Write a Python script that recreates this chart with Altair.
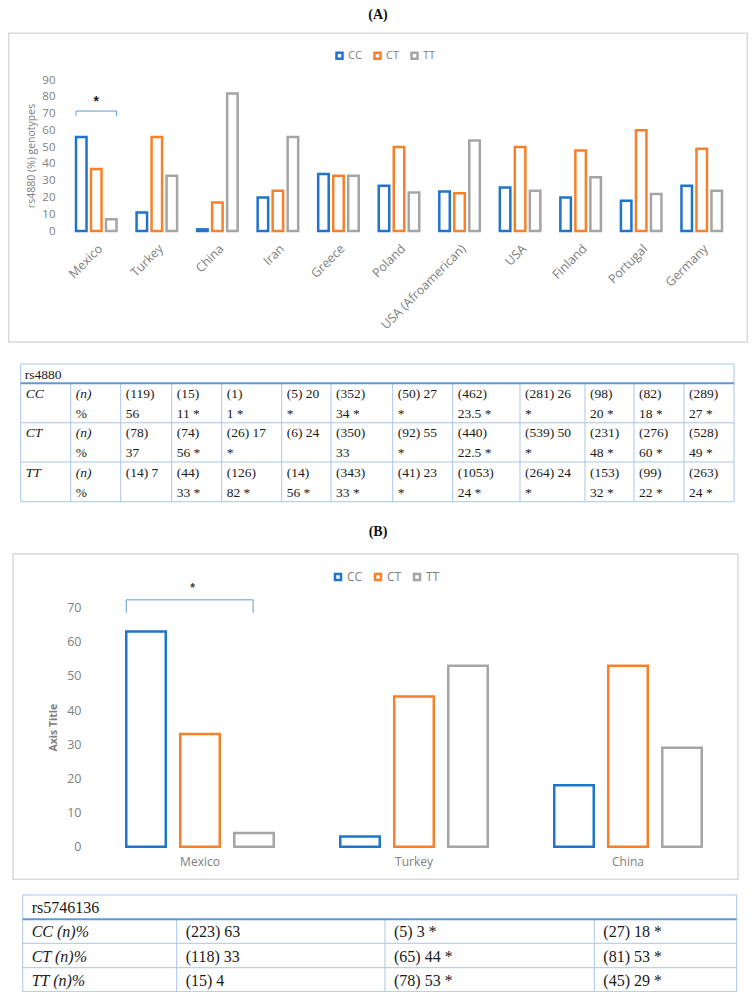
import altair as alt
import numpy as np
import pandas as pd

# ---------------- values ----------------
genotypes = ["CC", "CT", "TT"]

countries_a = ["Mexico", "Turkey", "China", "Iran", "Greece", "Poland",
               "USA (Afroamerican)", "USA", "Finland", "Portugal", "Germany"]
cc_a = [56, 11, 1, 20, 34, 27, 23.5, 26, 20, 18, 27]
ct_a = [37, 56, 17, 24, 33, 50, 22.5, 50, 48, 60, 49]
tt_a = [7, 33, 82, 56, 33, 23, 54, 24, 32, 22, 24]
ticks_a = [0, 10, 20, 30, 40, 50, 60, 70, 80, 90]
y_title_a = "rs4880 (%) genotypes"
bracket_a = {"country": "Mexico", "low": 68.5, "high": 71.5, "star": 77}

countries_b = ["Mexico", "Turkey", "China"]
cc_b = [63, 3, 18]
ct_b = [33, 44, 53]
tt_b = [4, 53, 29]
ticks_b = [0, 10, 20, 30, 40, 50, 60, 70]
y_title_b = "Axis Title"
bracket_b = {"country": "Mexico", "low": 68.5, "high": 72.3, "star": 75.8}

panel_titles = ["(A)", "(B)"]

table_a_snp = "rs4880"
table_a_rows = ["CC", "CT", "TT"]
table_a_unit = ["(n)", "%"]
table_a_cc = ["(119)\n56", "(15)\n11 *", "(1)\n1 *", "(5) 20\n*", "(352)\n34 *", "(50)  27\n*",
              "(462)\n23.5 *", "(281) 26\n*", "(98)\n20 *", "(82)\n18 *", "(289)\n27 *"]
table_a_ct = ["(78)\n37", "(74)\n56 *", "(26)  17\n*", "(6) 24", "(350)\n33", "(92)  55\n*",
              "(440)\n22.5 *", "(539) 50\n*", "(231)\n48 *", "(276)\n60 *", "(528)\n49 *"]
table_a_tt = ["(14) 7", "(44)\n33 *", "(126)\n82 *", "(14)\n56 *", "(343)\n33 *", "(41)  23\n*",
              "(1053)\n24 *", "(264) 24\n*", "(153)\n32 *", "(99)\n22 *", "(263)\n24 *"]

table_b_snp = "rs5746136"
table_b_rows = ["CC (n)%", "CT (n)%", "TT (n)%"]
table_b_cc = ["(223) 63", "(5) 3 *", "(27) 18 *"]
table_b_ct = ["(118) 33", "(65) 44 *", "(81) 53 *"]
table_b_tt = ["(15) 4", "(78) 53 *", "(45) 29 *"]

# ---------------- layout / style ----------------
W, H = 740, 984
COLORS = ["#1f74cc", "#f7812b", "#a5a5a5"]
AXIS_GRAY = "#808080"
TABLE_LINE = "#a9c5ea"
TABLE_HEAD = "#5b9bd5"
SERIF = "Liberation Serif"
SANS = "Open Sans"

tab_a_colw = [50, 50, 51, 50, 60, 49.3, 61.7, 60, 67.3, 65, 49, 50, 50]
tab_a_rowh = [19.3, 39.5, 39.2, 39.7]
tab_b_colw = [154, 208.3, 209.3, 142.4]
tab_b_rowh = [24.3, 24, 24.4, 24]


def long_df(countries, series):
    rows = []
    for g, vals in zip(genotypes, series):
        for c, v in zip(countries, vals):
            rows.append({"country": c, "genotype": g, "value": v})
    return pd.DataFrame(rows)


def bar_panel(countries, series, ticks, ytitle, brk, x_rng, y_dom, y_rng, x_pi, off_pi,
              label_angle, label_pad, x_font, y_font, y_pad, title_x, title_bold,
              legend_xy, legend_font, star_size, star_color):
    x_scale = alt.Scale(domain=countries, range=x_rng, paddingInner=x_pi, paddingOuter=x_pi / 2)
    y_scale = alt.Scale(domain=y_dom, range=y_rng, nice=False, zero=True)
    x_axis = alt.Axis(orient="bottom", offset=y_rng[0] - H, labelAngle=label_angle,
                      labelPadding=label_pad, labelFont=SANS, labelFontSize=x_font,
                      labelColor=AXIS_GRAY, domain=False, ticks=False, grid=False,
                      title=None, labelOverlap=False, labelLimit=300)
    y_axis = alt.Axis(orient="left", offset=-x_rng[0], values=ticks, labelPadding=y_pad,
                      labelFont=SANS, labelFontSize=y_font, labelColor=AXIS_GRAY,
                      domain=False, ticks=False, grid=False, title=ytitle,
                      titleFont=SANS, titleFontSize=10.5,
                      titleFontWeight="bold" if title_bold else "normal",
                      titleColor=AXIS_GRAY, titleAngle=270, titleX=title_x,
                      titleY=(y_rng[0] + y_rng[1]) / 2, titleAlign="center",
                      titleBaseline="middle")
    legend = alt.Legend(orient="none", legendX=legend_xy[0], legendY=legend_xy[1],
                        direction="horizontal", title=None, symbolType="square",
                        symbolSize=36, symbolStrokeWidth=2.5, symbolFillColor="white",
                        labelFont=SANS, labelFontSize=legend_font, labelColor=AXIS_GRAY,
                        labelOffset=3, columnPadding=7, padding=0)
    df = long_df(countries, series)
    bars = alt.Chart(df).mark_bar(fill="white", strokeWidth=2.5).encode(
        x=alt.X("country:N", sort=countries, scale=x_scale, axis=x_axis),
        xOffset=alt.XOffset("genotype:N", sort=genotypes,
                            scale=alt.Scale(domain=genotypes, paddingInner=off_pi, paddingOuter=0)),
        y=alt.Y("value:Q", scale=y_scale, axis=y_axis),
        stroke=alt.Stroke("genotype:N", sort=genotypes,
                          scale=alt.Scale(domain=genotypes, range=COLORS), legend=legend),
    )
    bdf = pd.DataFrame({"country": [brk["country"]], "value": [brk["high"]],
                        "value2": [brk["low"]], "star": [brk["star"]], "label": ["*"]})
    rule = dict(color="#5b9bd5", strokeWidth=1)
    top = alt.Chart(bdf).mark_rule(**rule).encode(
        x=alt.X("country:N", sort=countries, bandPosition=0, scale=x_scale, axis=x_axis),
        x2=alt.X2("country", bandPosition=brk.get("end", 1)),
        y=alt.Y("value:Q", scale=y_scale, axis=y_axis),
    )
    left = alt.Chart(bdf).mark_rule(**rule).encode(
        x=alt.X("country:N", sort=countries, bandPosition=0, scale=x_scale, axis=x_axis),
        y=alt.Y("value:Q", scale=y_scale, axis=y_axis),
        y2=alt.Y2("value2"),
    )
    right = alt.Chart(bdf).mark_rule(**rule).encode(
        x=alt.X("country:N", sort=countries, bandPosition=brk.get("end", 1), scale=x_scale, axis=x_axis),
        y=alt.Y("value:Q", scale=y_scale, axis=y_axis),
        y2=alt.Y2("value2"),
    )
    star = alt.Chart(bdf).mark_text(font="Liberation Sans", fontSize=star_size, fontWeight="bold",
                                    color=star_color, baseline="middle").encode(
        x=alt.X("country:N", sort=countries, bandPosition=brk.get("star_pos", 0.5),
                scale=x_scale, axis=x_axis),
        y=alt.Y("star:Q", scale=y_scale, axis=y_axis),
        text="label:N",
    )
    return alt.layer(bars, top, left, right, star)


def table_grid(col_w, row_h, left, top):
    xe = np.concatenate([[0.0], np.cumsum(col_w)])
    ye = np.concatenate([[0.0], np.cumsum(row_h)])
    wt, ht = float(xe[-1]), float(ye[-1])
    xs = alt.Scale(domain=[0, wt], range=[left, left + wt], nice=False, zero=False)
    ys = alt.Scale(domain=[0, ht], range=[top, top + ht], nice=False, zero=False)
    X = lambda f: alt.X(f, type="quantitative", scale=xs, axis=None)
    Y = lambda f: alt.Y(f, type="quantitative", scale=ys, axis=None)
    hl = pd.DataFrame({"x": 0.0, "x2": wt, "y": ye[2:-1]})
    vl = pd.DataFrame({"x": xe[1:-1], "y": ye[1], "y2": ht})
    box = pd.DataFrame({"x": [0.0], "x2": [wt], "y": [0.0], "y2": [ht]})
    head = pd.DataFrame({"x": [0.0], "x2": [wt], "y": [ye[1]]})
    layers = [
        alt.Chart(hl).mark_rule(color=TABLE_LINE, strokeWidth=1).encode(x=X("x"), x2="x2", y=Y("y")),
        alt.Chart(vl).mark_rule(color=TABLE_LINE, strokeWidth=1).encode(x=X("x"), y=Y("y"), y2="y2"),
        alt.Chart(box).mark_rect(fill=None, fillOpacity=0, stroke=TABLE_LINE, strokeWidth=1).encode(
            x=X("x"), x2="x2", y=Y("y"), y2="y2"),
        alt.Chart(head).mark_rule(color=TABLE_HEAD, strokeWidth=2).encode(x=X("x"), x2="x2", y=Y("y")),
    ]
    return layers, xe, ye, X, Y


# ---------------- table A ----------------
def table_a():
    layers, xe, ye, X, Y = table_grid(tab_a_colw, tab_a_rowh, 12.7, 356)
    head = pd.DataFrame({"x": [0.0], "y": [ye[1] / 2], "t": [table_a_snp]})
    ital, upr = [], []
    for i, (g, vals) in enumerate(zip(table_a_rows, [table_a_cc, table_a_ct, table_a_tt])):
        ital.append({"x": xe[0], "y": ye[i + 1], "t": g})
        ital.append({"x": xe[1], "y": ye[i + 1], "t": table_a_unit[0]})
        upr.append({"x": xe[1], "y": ye[i + 1], "t": "\n" + table_a_unit[1]})
        for j, v in enumerate(vals):
            upr.append({"x": xe[j + 2], "y": ye[i + 1], "t": v})
    txt = dict(font=SERIF, fontSize=13.5, color="#1a1a1a", align="left", baseline="line-top",
               lineHeight=20, lineBreak="\n", dx=5, dy=0.5)
    layers += [
        alt.Chart(head).mark_text(font=SERIF, fontSize=13.5, color="#1a1a1a", align="left",
                                  baseline="middle", dx=4, dy=1).encode(x=X("x"), y=Y("y"), text="t:N"),
        alt.Chart(pd.DataFrame(ital)).mark_text(fontStyle="italic", **txt).encode(
            x=X("x"), y=Y("y"), text="t:N"),
        alt.Chart(pd.DataFrame(upr)).mark_text(**txt).encode(x=X("x"), y=Y("y"), text="t:N"),
    ]
    return alt.layer(*layers)


# ---------------- table B ----------------
def table_b():
    layers, xe, ye, X, Y = table_grid(tab_b_colw, tab_b_rowh, 14.7, 887)
    head = pd.DataFrame({"x": [0.0], "y": [ye[1] / 2], "t": [table_b_snp]})
    ital, upr = [], []
    for i, (g, vals) in enumerate(zip(table_b_rows, [table_b_cc, table_b_ct, table_b_tt])):
        yc = (ye[i + 1] + ye[i + 2]) / 2
        ital.append({"x": xe[0], "y": yc, "t": g})
        for j, v in enumerate(vals):
            upr.append({"x": xe[j + 1], "y": yc, "t": v})
    txt = dict(font=SERIF, fontSize=16, color="#1a1a1a", align="left", baseline="middle", dx=9, dy=1)
    layers += [
        alt.Chart(head).mark_text(**txt).encode(x=X("x"), y=Y("y"), text="t:N"),
        alt.Chart(pd.DataFrame(ital)).mark_text(fontStyle="italic", **txt).encode(
            x=X("x"), y=Y("y"), text="t:N"),
        alt.Chart(pd.DataFrame(upr)).mark_text(**txt).encode(x=X("x"), y=Y("y"), text="t:N"),
    ]
    return alt.layer(*layers)


# ---------------- decorations ----------------
def panel_title(label, y):
    return alt.Chart(pd.DataFrame({"t": [label]})).mark_text(
        font=SERIF, fontSize=14, fontWeight="bold", color="#111111", baseline="middle").encode(
        x=alt.value(370), y=alt.value(y), text="t:N")


def frame(x, x2, y, y2):
    return alt.Chart(pd.DataFrame({"k": [0]})).mark_rect(
        fill=None, fillOpacity=0, stroke="#d9d9d9", strokeWidth=1.5).encode(
        x=alt.value(x), x2=alt.value(x2), y=alt.value(y), y2=alt.value(y2))


panel_a = bar_panel(countries_a, [cc_a, ct_a, tt_a], ticks_a, y_title_a, bracket_a,
                    x_rng=[58, 724], y_dom=[0, 90], y_rng=[223, 72], x_pi=0.3306, off_pi=0.3,
                    label_angle=-45, label_pad=11, x_font=12.5, y_font=11.5, y_pad=11,
                    title_x=-35, title_bold=False, legend_xy=(326, 42), legend_font=11,
                    star_size=14, star_color="#1a1a1a")
bracket_b["end"] = 0.86
bracket_b["star_pos"] = 0.45
panel_b = bar_panel(countries_b, [cc_b, ct_b, tt_b], ticks_b, y_title_b, bracket_b,
                    x_rng=[85, 727], y_dom=[0, 70], y_rng=[838.7, 599.7], x_pi=0.3107, off_pi=0.2685,
                    label_angle=0, label_pad=10, x_font=12, y_font=12.5, y_pad=12,
                    title_x=-40, title_bold=True, legend_xy=(324, 563), legend_font=12,
                    star_size=12, star_color="#404040")

chart = alt.layer(
    frame(0.75, 739.25, 25.3, 334),
    frame(5, 730, 546, 871.3),
    panel_title(panel_titles[0], 7),
    panel_title(panel_titles[1], 523.7),
    panel_a,
    table_a(),
    panel_b,
    table_b(),
).resolve_scale(
    x="independent", y="independent", xOffset="independent", stroke="independent"
).properties(
    width=W, height=H, padding=0, autosize=alt.AutoSizeParams(type="none")
).configure_view(stroke=None)

chart.save("out.html", embed_options={"renderer": "svg", "actions": False})
